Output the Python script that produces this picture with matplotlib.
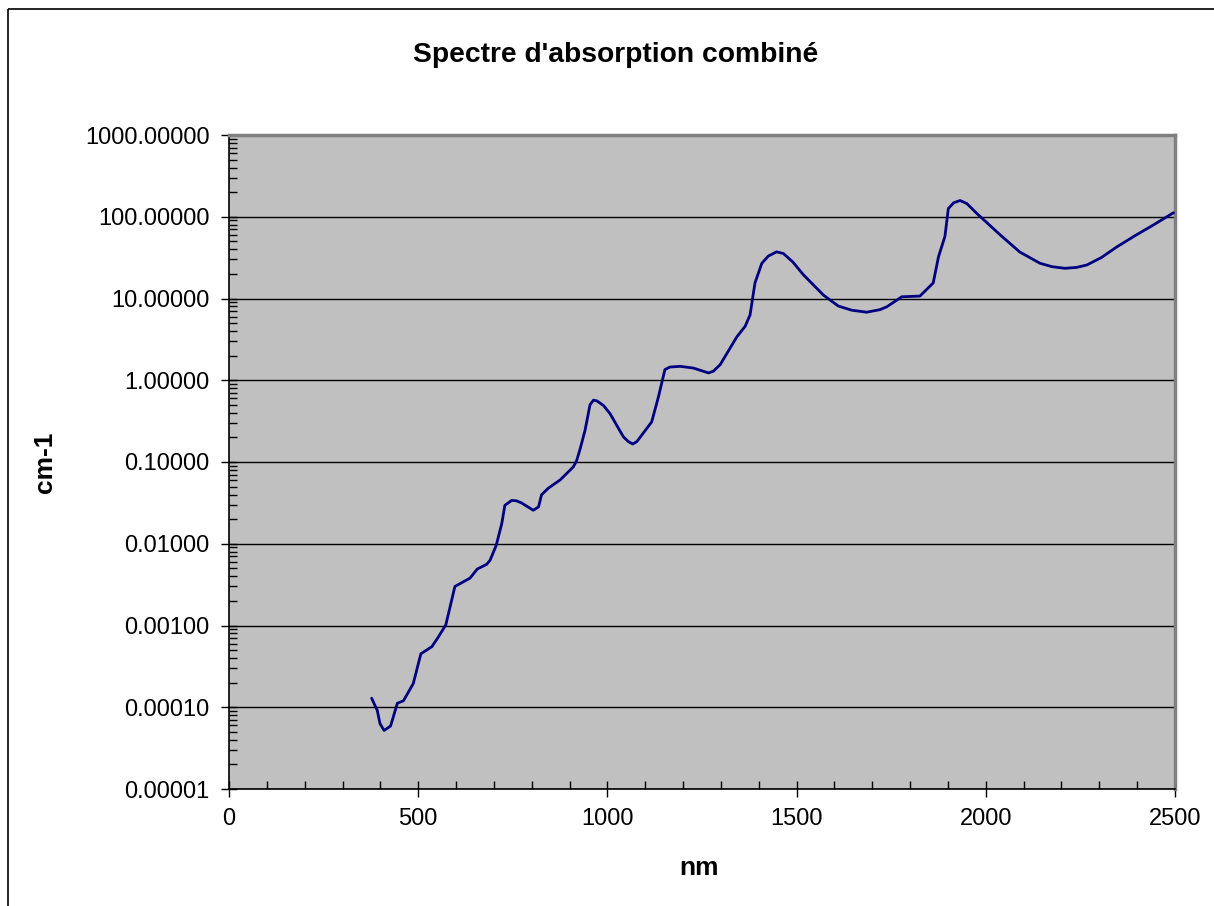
import matplotlib
matplotlib.use("Agg")
import matplotlib.pyplot as plt
from matplotlib.patches import Rectangle
from matplotlib.ticker import FixedLocator, FuncFormatter, LogLocator, NullFormatter, MultipleLocator

plt.rcParams['font.family'] = ['Liberation Sans', 'DejaVu Sans']

title = "Spectre d'absorption combiné"
xlabel = "nm"
ylabel = "cm-1"

wavelength_nm = [377, 392, 399, 410, 427, 445, 461, 487, 507, 536, 553, 573, 597, 637, 656,
                 681, 690, 706, 721, 729, 747, 760, 773, 804, 818, 826, 844, 875, 910, 919, 928,
                 941, 954, 963, 972, 990, 1007, 1042, 1055, 1067, 1078, 1091, 1117, 1135, 1152,
                 1165, 1192, 1227, 1267, 1280, 1298, 1342, 1364, 1377, 1390, 1408, 1425, 1447,
                 1465, 1490, 1518, 1571, 1610, 1645, 1685, 1720,
                 1738, 1778, 1826, 1861, 1875, 1892, 1901, 1915, 1932, 1950, 1976, 2038, 2090,
                 2143, 2175, 2209, 2240, 2267, 2305, 2346, 2395, 2443, 2496]
absorption = [1.29e-4, 9.1e-5, 6.3e-5, 5.2e-5, 5.9e-5, 1.12e-4, 1.20e-4, 1.95e-4, 4.5e-4,
              5.5e-4, 7.2e-4, 1.02e-3, 3.0e-3, 3.8e-3, 4.9e-3, 5.6e-3, 6.3e-3, 9.5e-3,
              0.0178, 0.0295, 0.0339, 0.0335, 0.0316, 0.0257, 0.0282, 0.0398, 0.0479, 0.0603,
              0.0871, 0.105, 0.145, 0.245, 0.50, 0.57, 0.56, 0.49, 0.39, 0.204, 0.178, 0.166,
              0.178, 0.214, 0.309, 0.63, 1.35, 1.45, 1.48, 1.41, 1.23, 1.29, 1.55, 3.39, 4.57,
              6.3, 15.5, 26.9, 33.0, 37.2, 35.5, 28.0, 19.5, 11.0, 8.1, 7.2, 6.8, 7.3,
              7.9, 10.5, 10.7, 15.5, 32.4, 57.5, 126, 148, 158, 145, 110, 60,
              37, 27, 24.5, 23.4, 24.0, 25.7, 31.6, 42.7, 58.9, 79.4, 112]

x_major = [0, 500, 1000, 1500, 2000, 2500]
y_major = [1e-5, 1e-4, 1e-3, 1e-2, 1e-1, 1, 10, 100, 1000]

W, H = 1214, 906
fig = plt.figure(figsize=(W / 100, H / 100), dpi=100)
fig.patch.set_facecolor('white')

# outer chart border
fig.patches.append(Rectangle((8 / W, 1 - 9 / H), 2.0, -2.0, transform=fig.transFigure,
                             fill=False, edgecolor='black', linewidth=1.2, figure=fig))

ax = fig.add_axes([229 / W, 1 - 789 / H, (1175 - 229) / W, (789 - 135) / H])
ax.set_facecolor('#c0c0c0')
ax.set_yscale('log')
ax.set_xlim(0, 2500)
ax.set_ylim(1e-5, 1000)

for yv in y_major:
    ax.axhline(yv, color='black', linewidth=1.0, zorder=1)

ax.plot(wavelength_nm, absorption, color='#000080', linewidth=2.0, zorder=3,
        solid_joinstyle='round', solid_capstyle='round')

for side in ['top', 'right']:
    ax.spines[side].set_color('#808080')
    ax.spines[side].set_linewidth(2.5)
for side in ['left', 'bottom']:
    ax.spines[side].set_color('black')
    ax.spines[side].set_linewidth(1.2)

ax.xaxis.set_major_locator(FixedLocator(x_major))
ax.xaxis.set_minor_locator(MultipleLocator(100))
ax.yaxis.set_major_locator(FixedLocator(y_major))
ax.yaxis.set_minor_locator(LogLocator(base=10, subs=range(2, 10), numticks=50))
ax.yaxis.set_minor_formatter(NullFormatter())
ax.yaxis.set_major_formatter(FuncFormatter(lambda v, p: f"{v:.5f}"))
ax.xaxis.set_major_formatter(FuncFormatter(lambda v, p: f"{v:.0f}"))

ax.tick_params(axis='both', which='major', direction='inout', length=12, width=1.0,
               color='black', labelsize=17, pad=8)
ax.tick_params(axis='both', which='minor', direction='in', length=6, width=1.0, color='black')

fig.text(616 / W, 1 - 55 / H, title, ha='center', va='center', fontsize=20.3, fontweight='bold')
fig.text(699 / W, 1 - 868 / H, xlabel, ha='center', va='center', fontsize=19, fontweight='bold')
fig.text(45 / W, 1 - 462 / H, ylabel, ha='center', va='center', fontsize=19,
         fontweight='bold', rotation=90)

fig.savefig('out.png', dpi=100)
